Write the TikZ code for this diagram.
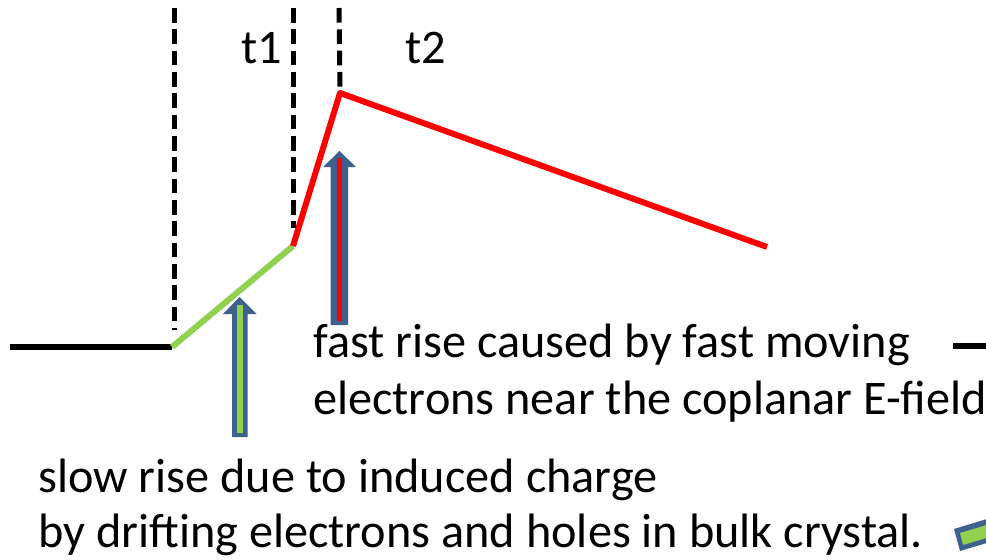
\documentclass[tikz,border=0pt]{standalone}
\usepackage{fontspec}
\setmainfont{Carlito}
\usetikzlibrary{positioning}
\definecolor{arrowblue}{RGB}{62,96,140}
\definecolor{slowgreen}{RGB}{146,208,80}

\begin{document}
\begin{tikzpicture}[x=0.75pt, y=-0.75pt,
    marker/.style={black, line width=3.75pt, dash pattern=on 11pt off 5pt},
    signal/.style={line width=4.5pt},
    blockarrow/.style={fill=arrowblue, draw=none},
    caption/.style={anchor=base west, inner sep=0pt,
                    font=\fontsize{36.2}{43}\selectfont}]
    \useasboundingbox (0,0) rectangle (986,560);

    % Signal points
    \coordinate (p0) at (10,347);
    \coordinate (p1) at (172,347);
    \coordinate (p2) at (293,246);
    \coordinate (p3) at (340,93);
    \coordinate (p4) at (767,247);

    % Time markers
    \draw[marker] (174,8) -- (174,330);
    \draw[marker] (293,8) -- (293,228);
    \draw[marker] (339,8) -- (p3);
    \node[font=\fontsize{36.2}{43}\selectfont] (t1) at (262,48) {t1};
    \node[font=\fontsize{36.2}{43}\selectfont] (t2) at (426,48) {t2};

    % Signal
    \draw[signal, black] (p0) -- (p1);
    \draw[signal, slowgreen] (p1) -- (p2);
    \draw[signal, red, line join=round] (p2) -- (p3) -- (p4);
    \draw[signal, black] (953,346) -- (990,346);

    % Arrows
    \fill[blockarrow] (232,437) -- (232,314) -- (223,314) -- (239.5,297)
        -- (256.5,314) -- (247.5,314) -- (247.5,437) -- cycle;
    \draw[slowgreen, line width=4.5pt] (239.5,433) -- (239.5,305);
    \fill[blockarrow] (330.5,325) -- (330.5,167) -- (323,167) -- (339.5,151)
        -- (356,167) -- (348,167) -- (348,325) -- cycle;
    \draw[red, line width=4.2pt] (339.5,321) -- (339.5,158);

    % Legend mark (cut at the edge)
    \begin{scope}
        \clip (0,0) rectangle (986,560);
        \fill[blockarrow] (954,529) -- (1000,515) -- (1007,537) -- (960,551) -- cycle;
        \fill[slowgreen] (960,533) -- (1000,521) -- (1003,533) -- (963,545) -- cycle;
    \end{scope}

    % Captions
    \node[caption] (fast1) at (313,357) {fast rise caused by fast moving};
    \node[caption] (fast2) at (313,414) {electrons near the coplanar E-field};
    \node[caption] (slow1) at (38,492) {slow rise due to induced charge};
    \node[caption] (slow2) at (38,547) {by drifting electrons and holes in bulk crystal.};
\end{tikzpicture}
\end{document}
